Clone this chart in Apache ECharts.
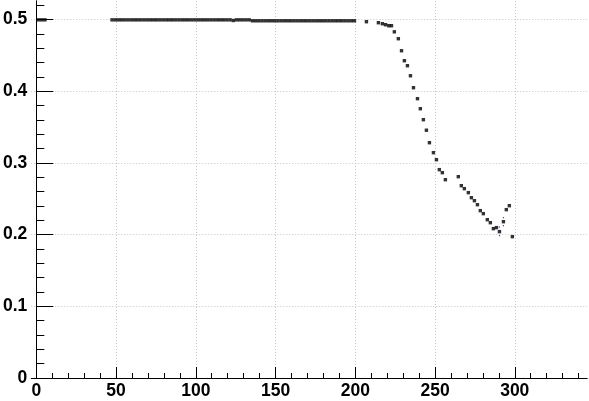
<!DOCTYPE html>
<html>
<head>
<meta charset="utf-8">
<script src="https://cdn.jsdelivr.net/npm/echarts@6/dist/echarts.min.js"></script>
<style>
html,body{margin:0;padding:0;background:#fff;}
#chart{width:589px;height:401px;}
</style>
</head>
<body>
<div id="chart"></div>
<script>
// ---- data ----
const xValues = [
  1.4, 3.4, 5.4,
  47.5, 49.5, 51.5, 53.5, 55.5, 57.5, 59.5, 61.5, 63.5, 65.5, 67.5, 69.5, 71.5, 73.5, 75.5, 77.5, 79.5,
  81.5, 83.5, 85.5, 87.5, 89.5, 91.5, 93.5, 95.5, 97.5, 99.5, 101.5, 103.5, 105.5, 107.5, 109.5, 111.5,
  113.5, 115.5, 117.5, 119.5, 121.5, 123.5, 125.5, 127.5, 129.5, 131.5, 133.5,
  135.5, 137.5, 139.5, 141.5, 143.5, 145.5, 147.5, 149.5, 151.5, 153.5, 155.5, 157.5, 159.5, 161.5,
  163.5, 165.5, 167.5, 169.5, 171.5, 173.5, 175.5, 177.5, 179.5, 181.5, 183.5, 185.5, 187.5, 189.5,
  191.5, 193.5, 195.5, 197.5, 199.5,
  207.0, 214.5, 217.0, 219.0, 221.0, 222.7, 224.5, 227.0, 229.0, 230.8, 232.7, 234.6, 236.5, 239.0,
  240.8, 242.7, 244.6, 246.5, 249.0, 250.9, 252.7, 254.6, 256.5, 264.6, 266.5, 268.4, 270.9, 272.8,
  274.7, 276.6, 278.4, 280.3, 282.8, 284.7, 286.6, 288.5, 290.4, 292.9, 294.7, 296.6, 298.5
];
const yValues = [
  0.4997, 0.4997, 0.4997,
  0.4997, 0.4997, 0.4997, 0.4997, 0.4997, 0.4997, 0.4997, 0.4997, 0.4997, 0.4997, 0.4997, 0.4997, 0.4997, 0.4997, 0.4997, 0.4997, 0.4997,
  0.4997, 0.4997, 0.4997, 0.4997, 0.4997, 0.4997, 0.4997, 0.4997, 0.4997, 0.4997, 0.4997, 0.4997, 0.4997, 0.4997, 0.4997, 0.4997,
  0.4997, 0.4997, 0.4997, 0.4997, 0.4997, 0.4988, 0.4997, 0.4997, 0.4997, 0.4997, 0.4997,
  0.4984, 0.4984, 0.4984, 0.4984, 0.4984, 0.4984, 0.4984, 0.4984, 0.4984, 0.4984, 0.4984, 0.4984, 0.4984, 0.4984,
  0.4984, 0.4984, 0.4984, 0.4984, 0.4984, 0.4984, 0.4984, 0.4984, 0.4984, 0.4984, 0.4984, 0.4984, 0.4984, 0.4984,
  0.4984, 0.4984, 0.4984, 0.4984, 0.4984,
  0.4971, 0.4957, 0.4943, 0.4929, 0.4915, 0.4915, 0.4830, 0.4734, 0.4566, 0.4427, 0.4357, 0.4217, 0.4050, 0.3897,
  0.3757, 0.3604, 0.3457, 0.3283, 0.3144, 0.3046, 0.2907, 0.2865, 0.2767, 0.2809, 0.2683, 0.2642, 0.2586, 0.2516,
  0.2474, 0.2418, 0.2335, 0.2293, 0.2209, 0.2167, 0.2084, 0.2098, 0.2042, 0.2181, 0.2349, 0.2404, 0.1972
];
const errX = [290.4, 292.9];
const errLow = [0.1986, 0.2125];
const errHigh = [0.2106, 0.2237];

const xMajorTicks = [0, 50, 100, 150, 200, 250, 300];
const xMinorTicks = [10, 20, 30, 40, 60, 70, 80, 90, 110, 120, 130, 140, 160, 170, 180, 190,
                     210, 220, 230, 240, 260, 270, 280, 290, 310, 320, 330, 340];
const yMajorTicks = [0, 0.1, 0.2, 0.3, 0.4, 0.5];
const yMinorTicks = [0.02, 0.04, 0.06, 0.08, 0.12, 0.14, 0.16, 0.18, 0.22, 0.24, 0.26, 0.28,
                     0.32, 0.34, 0.36, 0.38, 0.42, 0.44, 0.46, 0.48, 0.52];

// ---- chart ----
const X_MIN = -3.13, X_MAX = 345.3, Y_MIN = 0, Y_MAX = 0.526;
const labelFont = { fontFamily: 'Liberation Sans, Arial, sans-serif', fontWeight: 'bold', fontSize: 17.5, color: '#000' };
const gridDot = { show: true, lineStyle: { color: '#c4c4c4', width: 1, type: [1, 2] } };

const points = xValues.map((x, i) => [x, yValues[i]]);
const errPts = [];
errX.forEach((x, i) => { errPts.push([x, errLow[i]]); errPts.push([x, errHigh[i]]); });

const chart = echarts.init(document.getElementById('chart'), null, { renderer: 'canvas' });
chart.setOption({
  animation: false,
  backgroundColor: '#fff',
  grid: { left: 31, right: 2, top: 1, bottom: 23, containLabel: false },
  xAxis: [
    {
      type: 'value', min: X_MIN, max: X_MAX, position: 'bottom',
      axisLine: { show: true, lineStyle: { color: '#000', width: 1 } },
      axisTick: { show: true, inside: true, length: 11, customValues: xMajorTicks, lineStyle: { color: '#000', width: 1 } },
      axisLabel: Object.assign({ show: true, margin: 4, customValues: xMajorTicks }, labelFont),
      splitLine: gridDot, minorTick: { show: false }
    },
    {
      type: 'value', min: X_MIN, max: X_MAX, position: 'bottom',
      axisLine: { show: false },
      axisTick: { show: true, inside: true, length: 5, customValues: xMinorTicks, lineStyle: { color: '#000', width: 1 } },
      axisLabel: { show: false }, splitLine: { show: false }
    },
    {
      type: 'value', min: X_MIN, max: X_MAX, position: 'top',
      axisLine: { show: true, lineStyle: { color: '#000', width: 1 } },
      axisTick: { show: false }, axisLabel: { show: false }, splitLine: { show: false }
    }
  ],
  yAxis: [
    {
      type: 'value', min: Y_MIN, max: Y_MAX, position: 'left',
      axisLine: { show: true, lineStyle: { color: '#000', width: 1 } },
      axisTick: { show: true, inside: true, length: 17, customValues: yMajorTicks, lineStyle: { color: '#000', width: 1 } },
      axisLabel: Object.assign({ show: true, margin: 4, customValues: yMajorTicks }, labelFont),
      splitLine: gridDot, minorTick: { show: false }
    },
    {
      type: 'value', min: Y_MIN, max: Y_MAX, position: 'left',
      axisLine: { show: false },
      axisTick: { show: true, inside: true, length: 8, customValues: yMinorTicks, lineStyle: { color: '#000', width: 1 } },
      axisLabel: { show: false }, splitLine: { show: false }
    },
    {
      type: 'value', min: Y_MIN, max: Y_MAX, position: 'right',
      axisLine: { show: true, lineStyle: { color: '#000', width: 1 } },
      axisTick: { show: false }, axisLabel: { show: false }, splitLine: { show: false }
    }
  ],
  series: [
    {
      type: 'scatter', xAxisIndex: 0, yAxisIndex: 0,
      symbol: 'rect', symbolSize: 3.4,
      itemStyle: { color: '#000' },
      data: points, silent: true, z: 3
    },
    {
      type: 'scatter', xAxisIndex: 0, yAxisIndex: 0,
      symbol: 'rect', symbolSize: 1.2,
      itemStyle: { color: '#1010c0' },
      data: errPts, silent: true, z: 4
    }
  ]
});
</script>
</body>
</html>
